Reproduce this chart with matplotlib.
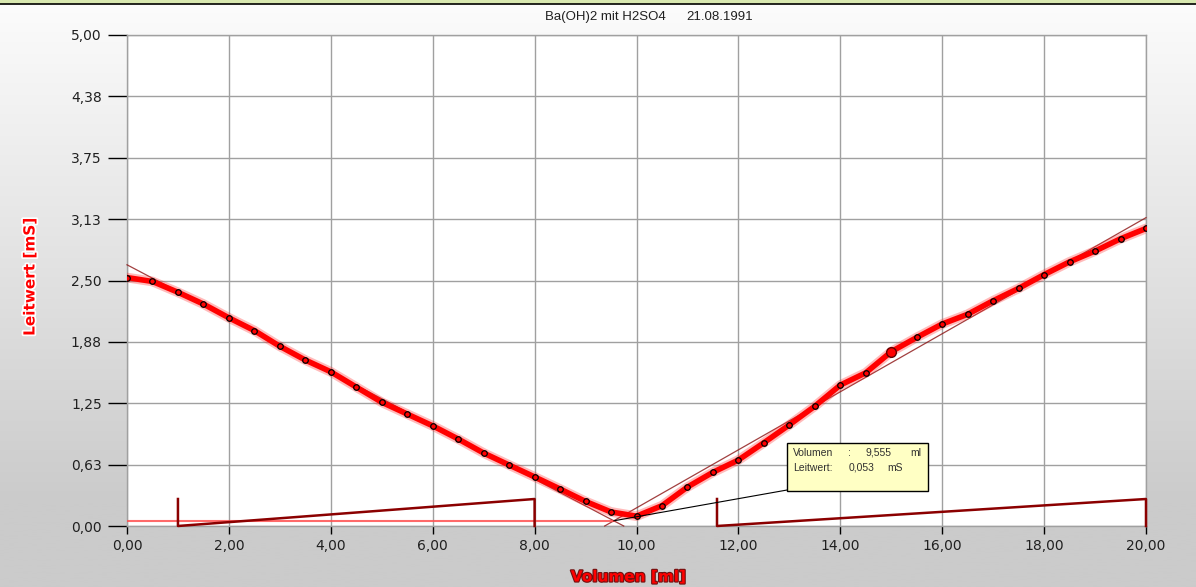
import numpy as np
import matplotlib
matplotlib.use("Agg")
import matplotlib.pyplot as plt
import matplotlib.patheffects as pe
from matplotlib.patches import Rectangle

# ---- data ----
volumen = [0.0, 0.5, 1.0, 1.5, 2.0, 2.5, 3.0, 3.5, 4.0, 4.5, 5.0, 5.5, 6.0, 6.5,
           7.0, 7.5, 8.0, 8.5, 9.0, 9.5, 10.0, 10.5, 11.0, 11.5, 12.0, 12.5,
           13.0, 13.5, 14.0, 14.5, 15.0, 15.5, 16.0, 16.5, 17.0, 17.5, 18.0,
           18.5, 19.0, 19.5, 20.0]
leitwert = [2.53, 2.49, 2.38, 2.26, 2.12, 1.99, 1.83, 1.69, 1.57, 1.415, 1.26,
            1.14, 1.02, 0.886, 0.743, 0.621, 0.50, 0.377, 0.25, 0.143, 0.10,
            0.207, 0.397, 0.547, 0.672, 0.848, 1.03, 1.22, 1.435, 1.56, 1.775,
            1.92, 2.057, 2.156, 2.294, 2.42, 2.56, 2.69, 2.80, 2.925, 3.03]
highlight_x = [15.0]
highlight_y = [1.775]

# equivalence point and regression line ends
eq_vol = 9.555
eq_lw = 0.053
left_fit_start = 2.66     # value of left line at 0 ml
right_fit_end = 3.14      # value of right line at 20 ml

# fit ranges (brackets)
left_range = [1.0, 8.0]
right_range = [11.58, 20.0]
bracket_height = [0.275, 0.275]

xticks = [0, 2, 4, 6, 8, 10, 12, 14, 16, 18, 20]
xticklabels = ["0,00", "2,00", "4,00", "6,00", "8,00", "10,00", "12,00",
               "14,00", "16,00", "18,00", "20,00"]
yticks = [0, 0.625, 1.25, 1.875, 2.5, 3.125, 3.75, 4.375, 5.0]
yticklabels = ["0,00", "0,63", "1,25", "1,88", "2,50", "3,13", "3,75", "4,38", "5,00"]

W, H = 1196, 587
fig = plt.figure(figsize=(W / 100, H / 100), dpi=100)

# background gradient
bg = fig.add_axes([0, 0, 1, 1], zorder=-10)
grad = np.concatenate([np.linspace(0, 1, 220), np.ones(36)])[:, None]
bg.imshow(grad, aspect="auto", cmap=matplotlib.colors.LinearSegmentedColormap.from_list(
    "g", ["#fcfcfc", "#cbcbcb"]), extent=[0, 1, 0, 1], origin="upper")
bg.add_patch(Rectangle((0, 1 - 3 / H), 1, 3 / H, color="#d8e8b0", transform=bg.transAxes))
bg.axhline(1 - 4 / H, color="black", lw=1.2)
bg.set_xlim(0, 1)
bg.set_ylim(0, 1)
bg.axis("off")

L, R, T, B = 127, 1146, 35, 526
ax = fig.add_axes([L / W, 1 - B / H, (R - L) / W, (B - T) / H])
ax.set_facecolor("white")
ax.set_xlim(0, 20)
ax.set_ylim(0, 5)
ax.set_xticks(xticks)
ax.set_xticklabels(xticklabels)
ax.set_yticks(yticks)
ax.set_yticklabels(yticklabels)
ax.grid(True, color="#a0a0a0", lw=1)
ax.set_axisbelow(True)
for s in ax.spines.values():
    s.set_color("#a0a0a0")
    s.set_linewidth(1)
ax.tick_params(axis="y", length=13.7, width=1, color="black", labelsize=10,
               labelcolor="#202020", pad=4.5)
ax.tick_params(axis="x", length=6, width=1, color="black", labelsize=10,
               labelcolor="#202020", pad=3)

# regression lines
sl_left = (left_fit_start - eq_lw) / eq_vol
x0_left = left_fit_start / sl_left
ax.plot([0, x0_left], [left_fit_start, 0], color="#8b1010", lw=0.9, alpha=0.8,
        zorder=3, clip_on=False)
sl_right = (right_fit_end - eq_lw) / (20 - eq_vol)
x0_right = eq_vol - eq_lw / sl_right
ax.plot([x0_right, 20], [0, right_fit_end], color="#8b1010", lw=0.9, alpha=0.8,
        zorder=3, clip_on=False)

# horizontal marker at equivalence conductivity
ax.plot([0, eq_vol], [eq_lw, eq_lw], color="#ff5050", lw=1.5, alpha=0.85, zorder=3)

# fit-range brackets
for rng, hgt in zip([left_range, right_range], bracket_height):
    ax.plot([rng[0], rng[0], rng[1], rng[1]], [hgt, 0, hgt, 0],
            color="#8b0000", lw=1.8, zorder=4, clip_on=False)

# measured data
ax.plot(volumen, leitwert, color="#ff2020", lw=7, alpha=0.3, zorder=5,
        solid_capstyle="round")
ax.plot(volumen, leitwert, color="#ff0000", lw=4, zorder=6,
        solid_capstyle="round", solid_joinstyle="round")
ax.plot(volumen, leitwert, ls="none", marker="o", ms=4, mfc="#ff0000",
        mec="black", mew=0.9, zorder=7)
ax.plot(highlight_x, highlight_y, ls="none", marker="o", ms=7, mfc="#ff0000",
        mec="#600000", mew=1, zorder=8)

# tooltip
bx0, bx1, by0, by1 = 12.95, 15.72, 0.356, 0.845
ax.plot([eq_vol, bx0], [eq_lw, by0 + 0.01], color="black", lw=0.8, zorder=8)
ax.add_patch(Rectangle((bx0, by0), bx1 - bx0, by1 - by0, facecolor="#ffffc4",
                       edgecolor="black", lw=1, zorder=9))
tkw = dict(fontsize=7.5, color="#303030", zorder=10, va="center",
           family=["Liberation Sans", "DejaVu Sans"])
ax.text(13.07, 0.745, "Volumen", **tkw)
ax.text(14.15, 0.745, ":", **tkw)
ax.text(14.49, 0.745, "9,555", **tkw)
ax.text(15.37, 0.745, "ml", **tkw)
ax.text(13.07, 0.595, "Leitwert:", **tkw)
ax.text(14.17, 0.595, "0,053", **tkw)
ax.text(14.92, 0.595, "mS", **tkw)

# titles and labels
title_kw = dict(va="center", fontsize=9.5, color="#202020",
                family=["Liberation Sans", "DejaVu Sans"])
fig.text(666 / W, 1 - 17 / H, "Ba(OH)2 mit H2SO4", ha="right", **title_kw)
fig.text(686 / W, 1 - 17 / H, "21.08.1991", ha="left", **title_kw)
fig.text(30 / W, 1 - 277 / H, "Leitwert [mS]", rotation=90, ha="center",
         va="center", fontsize=11, fontweight="bold", color="#ff0000",
         path_effects=[pe.withStroke(linewidth=2.5, foreground="white")])
fig.text(628 / W, 1 - 577 / H, "Volumen [ml]", ha="center", va="center",
         fontsize=11, fontweight="bold", color="#ff0000",
         path_effects=[pe.withStroke(linewidth=1.6, foreground="#701010")])

fig.savefig("out.png", dpi=100)
